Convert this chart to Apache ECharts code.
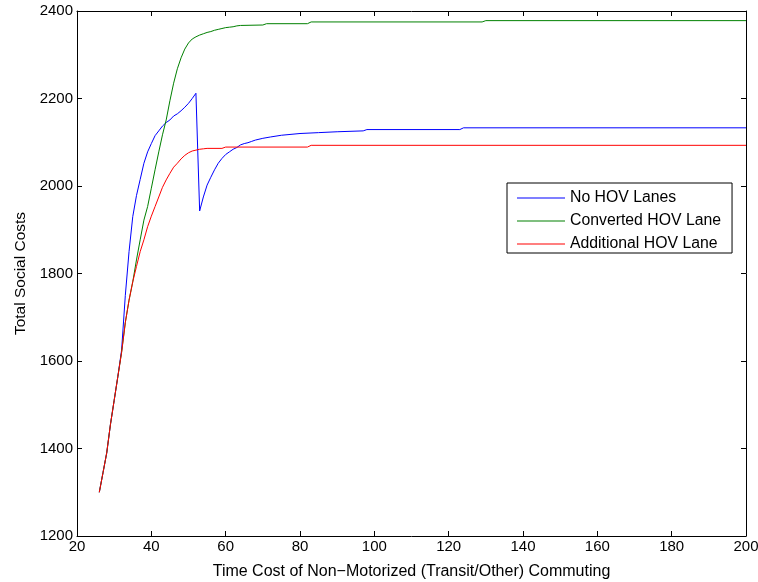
<!DOCTYPE html>
<html>
<head>
<meta charset="utf-8">
<title>Total Social Costs</title>
<script src="https://cdn.jsdelivr.net/npm/echarts@6/dist/echarts.min.js"></script>
<style>
  html, body { margin: 0; padding: 0; background: #fff; }
  #chart { width: 758px; height: 582px; }
</style>
</head>
<body>
<div id="chart"></div>
<script>
// Time cost of non-motorized commuting (x) vs. total social costs (y)
const noHovX = [26, 27, 28, 29, 30, 31, 32, 33, 34, 35, 36, 37, 38, 39, 40, 41, 42, 43, 44, 45,
  46, 47, 48, 49, 50, 51, 52, 53, 54, 55, 56, 57, 58, 59, 60, 61, 62, 63, 64, 65, 66, 67, 68,
  70, 72, 75, 80, 85, 90, 97, 98, 123, 124, 200];
const noHovY = [1300, 1345, 1390, 1455, 1510, 1565, 1625, 1750, 1850, 1930, 1978, 2015, 2052, 2078, 2097, 2115, 2126, 2137, 2145, 2151,
  2160, 2165, 2172, 2180, 2189, 2200, 2212, 1943, 1975, 2002, 2020, 2037, 2052, 2063, 2072, 2078, 2084, 2088, 2094, 2097, 2099, 2102, 2105,
  2109, 2112, 2116, 2120, 2122, 2124, 2126, 2129, 2129, 2133, 2133];

const convertedX = [26, 27, 28, 29, 30, 31, 32, 33, 34, 35, 36, 37, 38, 39, 40, 41, 42, 43, 44, 45,
  46, 47, 48, 49, 50, 51, 52, 53, 54, 55, 56, 57, 58, 59, 60, 61, 62, 63, 64, 70, 71, 82, 83, 129, 130, 200];
const convertedY = [1300, 1345, 1390, 1455, 1510, 1565, 1620, 1688, 1739, 1781, 1831, 1877, 1922, 1953, 1995, 2037, 2078, 2117, 2151, 2195,
  2235, 2268, 2293, 2313, 2327, 2336, 2341, 2345, 2348, 2351, 2353, 2356, 2358, 2360, 2362, 2363, 2364, 2366, 2367, 2368, 2371, 2371, 2375, 2375, 2378, 2378];

const additionalX = [26, 27, 28, 29, 30, 31, 32, 33, 34, 35, 36, 37, 38, 39, 40, 41, 42, 43, 44, 45,
  46, 47, 48, 49, 50, 51, 52, 53, 54, 55, 59, 60, 82, 83, 200];
const additionalY = [1300, 1345, 1390, 1455, 1510, 1565, 1620, 1688, 1739, 1781, 1816, 1850, 1877, 1907, 1931, 1953, 1975, 1997, 2014, 2029,
  2043, 2052, 2062, 2070, 2076, 2080, 2082, 2084, 2085, 2086, 2086, 2089, 2089, 2093, 2093];

const seriesNames = ['No HOV Lanes', 'Converted HOV Lane', 'Additional HOV Lane'];
const xTitle = 'Time Cost of Non\u2212Motorized (Transit/Other) Commuting';
const yTitle = 'Total Social Costs';
const xRange = [20, 200, 20];
const yRange = [1200, 2400, 200];

const FONT = '"Liberation Sans", Arial, Helvetica, sans-serif';
const pairs = (xs, ys) => xs.map((x, i) => [x, ys[i]]);

const chart = echarts.init(document.getElementById('chart'), null, { renderer: 'canvas' });

const frameAxis = (extra) => Object.assign({
  type: 'value',
  axisLine: { show: true, onZero: false, lineStyle: { color: '#000', width: 1 } },
  axisTick: { show: true, inside: true, length: 5, lineStyle: { color: '#000', width: 1 } },
  splitLine: { show: false },
  axisLabel: { show: false }
}, extra);

chart.setOption({
  animation: false,
  backgroundColor: '#fff',
  textStyle: { fontFamily: FONT },
  grid: { left: 77, right: 12, top: 11, bottom: 46, containLabel: false, outerBoundsMode: 'none' },
  legend: {
    data: seriesNames,
    orient: 'vertical',
    left: 507,
    top: 183,
    padding: [7, 11, 1, 10],
    itemGap: 7,
    icon: 'rect',
    itemWidth: 48,
    itemHeight: 1,
    borderColor: '#000',
    borderWidth: 1,
    borderRadius: 0,
    backgroundColor: '#fff',
    textStyle: { fontSize: 15.8, color: '#000', fontFamily: FONT }
  },
  xAxis: [
    frameAxis({
      position: 'bottom',
      min: xRange[0], max: xRange[1], interval: xRange[2],
      axisLabel: { show: true, color: '#000', fontSize: 15, margin: 3, fontFamily: FONT, formatter: v => String(v) },
      name: xTitle,
      nameLocation: 'middle',
      nameGap: 28,
      nameTextStyle: { color: '#000', fontSize: 16, fontFamily: FONT }
    }),
    frameAxis({ position: 'top', min: xRange[0], max: xRange[1], interval: xRange[2] })
  ],
  yAxis: [
    frameAxis({
      position: 'left',
      min: yRange[0], max: yRange[1], interval: yRange[2],
      axisLabel: { show: true, color: '#000', fontSize: 15, margin: 4, fontFamily: FONT, formatter: v => String(v) },
      name: yTitle,
      nameLocation: 'middle',
      nameGap: 44,
      nameTextStyle: { color: '#000', fontSize: 15.5, fontFamily: FONT }
    }),
    frameAxis({ position: 'right', min: yRange[0], max: yRange[1], interval: yRange[2] })
  ],
  series: [
    { name: seriesNames[0], type: 'line', data: pairs(noHovX, noHovY), color: '#0000ff' },
    { name: seriesNames[1], type: 'line', data: pairs(convertedX, convertedY), color: '#008000' },
    { name: seriesNames[2], type: 'line', data: pairs(additionalX, additionalY), color: '#ff0000' }
  ].map(s => Object.assign(s, {
    xAxisIndex: 0,
    yAxisIndex: 0,
    symbol: 'none',
    showSymbol: false,
    smooth: false,
    lineStyle: { width: 1, color: s.color },
    itemStyle: { color: s.color }
  }))
});
</script>
</body>
</html>
